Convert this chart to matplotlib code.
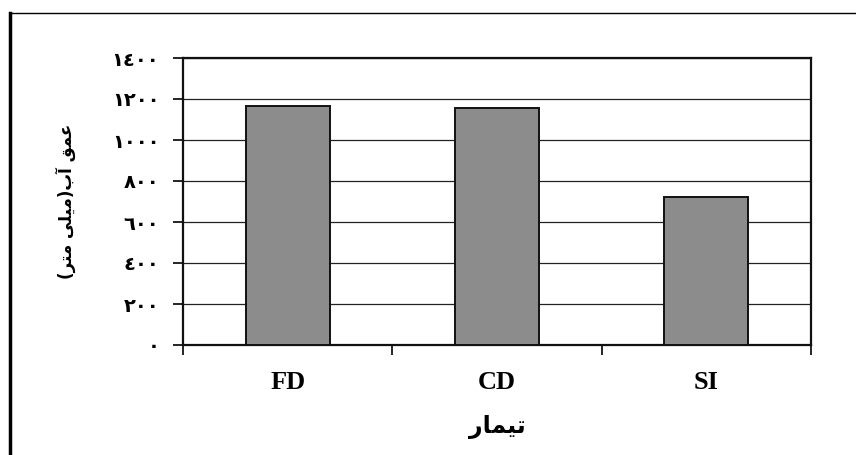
import matplotlib
matplotlib.use("Agg")
import matplotlib.pyplot as plt
from matplotlib.lines import Line2D

# data
treatments = ["FD", "CD", "SI"]
depth_mm = [1165, 1158, 722]
y_ticks = [0, 200, 400, 600, 800, 1000, 1200, 1400]

# Arabic-Indic digits for the tick labels
digits = str.maketrans("0123456789", "٠١٢٣٤٥٦٧٨٩")
y_tick_labels = [str(v).translate(digits) for v in y_ticks]

# matplotlib has no Arabic shaping, so the labels are given already shaped
# (presentation forms) and in visual order
# "عمق آب(میلی متر)"
y_label = "(\uFEAE\uFE98\uFEE3 \uFEF0\uFEE0\uFEF4\uFEE3)\uFE8F\uFE81 \uFED6\uFEE4\uFECB"
# "تیمار"
x_label = "\uFEAD\uFE8E\uFEE4\uFEF4\uFE97"

fig = plt.figure(figsize=(8.56, 4.55), dpi=100)
ax = fig.add_axes([183 / 856, 1 - 345 / 455, (811 - 183) / 856, (345 - 58) / 455])

x = list(range(len(treatments)))
ax.bar(x, depth_mm, width=0.4, color="#8c8c8c", edgecolor="#111111",
       linewidth=1.4, zorder=3)

ax.set_xlim(-0.5, 2.5)
ax.set_ylim(0, 1400)
ax.set_yticks(y_ticks)
ax.set_yticklabels(y_tick_labels, fontfamily="DejaVu Sans", fontweight="bold",
                   fontsize=14)
ax.yaxis.grid(True, color="#222222", linewidth=0.9, zorder=0)

ax.set_xticks(x)
ax.set_xticklabels(treatments, fontfamily="Liberation Serif",
                   fontweight="bold", fontsize=19)
ax.set_xticks([-0.5, 0.5, 1.5, 2.5], minor=True)
ax.tick_params(axis="x", which="major", length=0, pad=19)
ax.tick_params(axis="x", which="minor", length=7, width=1.2, direction="out")
ax.tick_params(axis="y", length=7, width=1.2, direction="out", pad=10)

for side in ["left", "bottom", "top", "right"]:
    ax.spines[side].set_linewidth(1.6)
    ax.spines[side].set_color("#111111")

ax.set_xlabel(x_label, fontfamily="DejaVu Sans", fontweight="bold",
              fontsize=17, labelpad=15)
ax.set_ylabel(y_label, fontfamily="DejaVu Sans", fontweight="bold",
              fontsize=12, labelpad=26)

# outer frame of the scanned figure
fig.add_artist(Line2D([10 / 856, 10 / 856], [1 - 13 / 455, 0],
                      transform=fig.transFigure, color="black", linewidth=2.5))
fig.add_artist(Line2D([10 / 856, 1], [1 - 13 / 455, 1 - 13 / 455],
                      transform=fig.transFigure, color="black", linewidth=1.0))

fig.savefig("out.png", dpi=100)
